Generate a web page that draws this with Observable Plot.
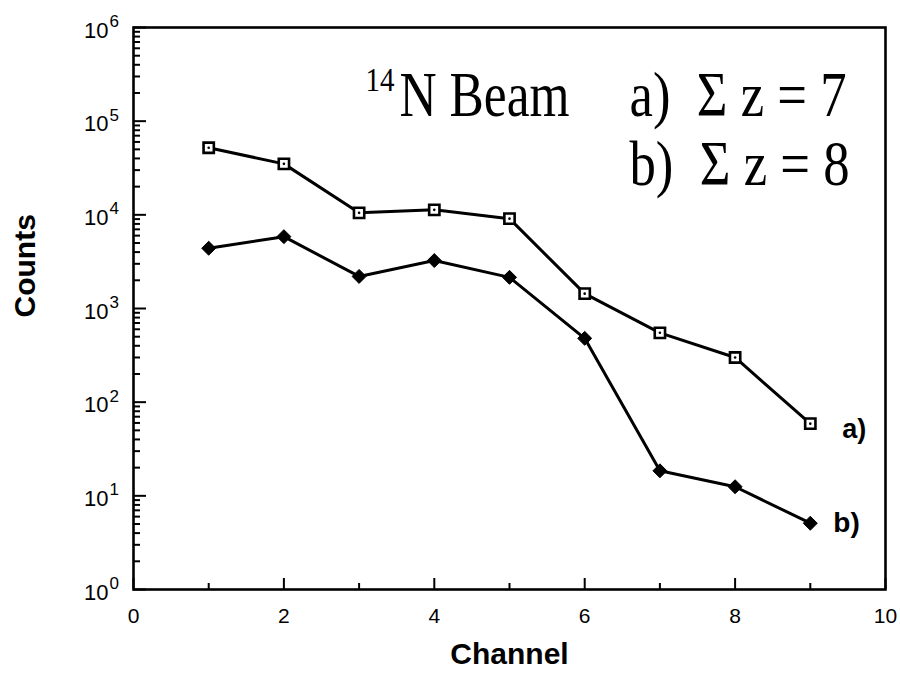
<!DOCTYPE html>
<html>
<head>
<meta charset="utf-8">
<script src="https://cdn.jsdelivr.net/npm/d3@7"></script>
<script src="https://cdn.jsdelivr.net/npm/@observablehq/plot@0.6"></script>
<style>
  html, body { margin: 0; padding: 0; background: #fff; }
  #chart { width: 900px; height: 685px; }
</style>
</head>
<body>
<div id="chart"></div>
<script>
// ---- data ----
const channels = [1, 2, 3, 4, 5, 6, 7, 8, 9];
const countsA = [52000, 35000, 10500, 11300, 9100, 1440, 550, 300, 59];   // a) Σz = 7
const countsB = [4400, 5850, 2200, 3250, 2150, 480, 18.5, 12.5, 5.1];     // b) Σz = 8
const seriesLabels = ["a)", "b)"];
const xTickMajor = [0, 2, 4, 6, 8, 10];
const xTickMinor = [1, 3, 5, 7, 9];
const yExponents = [0, 1, 2, 3, 4, 5, 6];
const titleSup = "14";
const titleMain = "N Beam";
const titleLine1 = "a)  \u03A3 z = 7";
const titleLine2 = "b)  \u03A3 z = 8";
const xLabel = "Channel";
const yLabel = "Counts";

// ---- layout ----
const W = 900, H = 685;
const mL = 133, mR = 15, mT = 27, mB = 96;
const innerW = W - mL - mR, innerH = H - mT - mB;

const dataA = channels.map((c, i) => ({x: c, y: countsA[i]}));
const dataB = channels.map((c, i) => ({x: c, y: countsB[i]}));
const yMajor = yExponents.map(e => 10 ** e);
const yMinor = [];
for (const e of yExponents.slice(0, -1)) for (let m = 2; m <= 9; m++) yMinor.push(m * 10 ** e);

const sans = "Liberation Sans, Arial, Helvetica, sans-serif";
const serif = "Liberation Serif, Times New Roman, serif";

const chart = Plot.plot({
  width: W, height: H,
  marginLeft: mL, marginRight: mR, marginTop: mT, marginBottom: mB,
  style: {background: "#fff", color: "#000"},
  x: {domain: [0, 10], axis: null},
  y: {type: "log", domain: [1, 1e6], axis: null},
  marks: [
    // ticks (inward)
    Plot.tickY(yMajor, {y: d => d, insetRight: innerW - 13, stroke: "#000", strokeWidth: 2}),
    Plot.tickY(yMinor, {y: d => d, insetRight: innerW - 7, stroke: "#000", strokeWidth: 2}),
    Plot.tickX(xTickMajor, {x: d => d, insetTop: innerH - 11, stroke: "#000", strokeWidth: 2}),
    Plot.tickX(xTickMinor, {x: d => d, insetTop: innerH - 6, stroke: "#000", strokeWidth: 2}),
    Plot.frame({stroke: "#000", strokeWidth: 2.6}),
    // tick labels
    Plot.text(xTickMajor, {x: d => d, text: d => String(d), frameAnchor: "bottom", lineAnchor: "middle", dy: 27,
      fontSize: 21, fontFamily: sans, fill: "#000"}),
    Plot.text(yMajor, {y: d => d, text: () => "10", frameAnchor: "left", textAnchor: "end", lineAnchor: "middle", dx: -25, dy: 3,
      fontSize: 22, fontFamily: sans, fill: "#000"}),
    Plot.text(yExponents, {y: d => 10 ** d, text: d => String(d), frameAnchor: "left", textAnchor: "start", lineAnchor: "middle", dx: -24, dy: -6,
      fontSize: 17, fontFamily: sans, fill: "#000"}),
    // axis titles
    Plot.text([xLabel], {text: d => d, frameAnchor: "bottom", lineAnchor: "middle", dy: 65, fontSize: 30, fontWeight: "bold", fontFamily: sans, fill: "#000"}),
    Plot.text([yLabel], {text: d => d, frameAnchor: "left", lineAnchor: "middle", rotate: -90, dx: -108, dy: 9, fontSize: 30, fontWeight: "bold", fontFamily: sans, fill: "#000"}),
    // lines
    Plot.line(dataA, {x: "x", y: "y", stroke: "#000", strokeWidth: 3}),
    Plot.line(dataB, {x: "x", y: "y", stroke: "#000", strokeWidth: 3}),
    // markers
    Plot.dot(dataA, {x: "x", y: "y", symbol: "square", r: 5.8, fill: "#fff", stroke: "#000", strokeWidth: 2.6}),
    Plot.dot(dataA, {x: "x", y: "y", r: 1.3, fill: "#000", stroke: null}),
    Plot.dot(dataB, {x: "x", y: "y", symbol: "diamond2", r: 6.3, fill: "#000", stroke: "#000", strokeWidth: 1}),
    // series labels
    Plot.text([dataA[dataA.length - 1]], {x: "x", y: "y", text: () => seriesLabels[0], textAnchor: "start", lineAnchor: "middle", dx: 32, dy: 6,
      fontSize: 27, fontWeight: "bold", fontFamily: sans, fill: "#000"}),
    Plot.text([dataB[dataB.length - 1]], {x: "x", y: "y", text: () => seriesLabels[1], textAnchor: "start", lineAnchor: "middle", dx: 23, dy: 0,
      fontSize: 28, fontWeight: "bold", fontFamily: sans, fill: "#000"}),
    // title annotation
    Plot.text([titleSup], {text: d => d, frameAnchor: "top-left", textAnchor: "start", lineAnchor: "middle", dx: 365 - mL, dy: 80 - mT,
      fontSize: 33, fontFamily: serif, fill: "#000"}),
    Plot.text([titleMain], {text: d => d, frameAnchor: "top-left", textAnchor: "start", lineAnchor: "middle", dx: 399 - mL, dy: 95 - mT,
      fontSize: 64, fontFamily: serif, fill: "#000"}),
    Plot.text([titleLine1], {text: d => d, frameAnchor: "top-left", textAnchor: "start", lineAnchor: "middle", dx: 629 - mL, dy: 95 - mT,
      fontSize: 64, fontFamily: serif, fill: "#000"}),
    Plot.text([titleLine2], {text: d => d, frameAnchor: "top-left", textAnchor: "start", lineAnchor: "middle", dx: 629 - mL, dy: 164 - mT,
      fontSize: 64, fontFamily: serif, fill: "#000"})
  ]
});
document.getElementById("chart").appendChild(chart);

// condensed serif look of the original annotation: fit each piece to its measured span
const spans = new Map([[titleSup, 29], [titleMain, 170], [titleLine1, 217], [titleLine2, 220]]);
d3.select(chart).selectAll("text").each(function () {
  const t = this.textContent;
  if (spans.has(t)) {
    this.setAttribute("textLength", spans.get(t));
    this.setAttribute("lengthAdjust", "spacingAndGlyphs");
  }
});
</script>
</body>
</html>
